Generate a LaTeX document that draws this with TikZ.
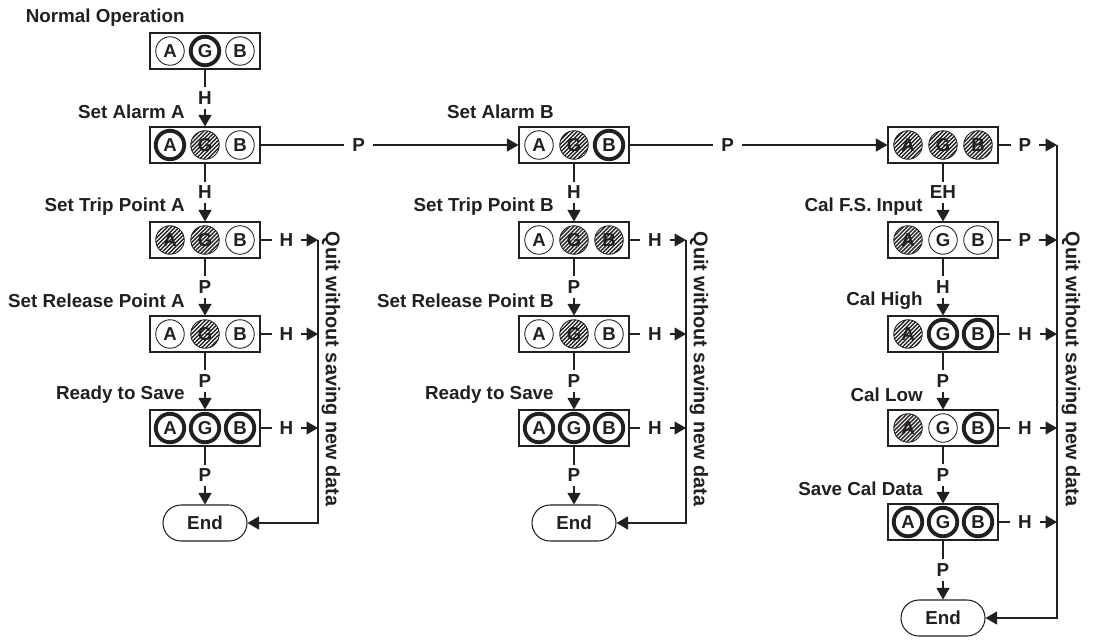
\documentclass[tikz,border=0pt]{standalone}
\usepackage{fontspec}
\setmainfont{Liberation Sans}
\usepackage{tikz}
\usetikzlibrary{arrows.meta,positioning,calc,patterns.meta}
\definecolor{ink}{HTML}{231F20}
\newcommand{\keyfont}{\fontsize{10.7}{12}\selectfont\bfseries}
\newcommand{\quitfont}{\fontsize{11.3}{13}\selectfont\bfseries}
\newcommand{\lampfont}{\fontsize{10.6}{12}\selectfont\bfseries}
\tikzset{
  panel/.style   ={draw=ink, line width=0.6pt, minimum width=22mm, minimum height=7.2mm, inner sep=0pt},
  lamp/.style    ={circle, draw=ink, line width=0.5pt, minimum size=5.7mm, inner sep=0pt,
                   font=\lampfont, text=ink},
  lampoff/.style ={lamp},
  lampon/.style  ={lamp, line width=2.2pt},
  lampfl/.style  ={lamp, pattern={Lines[angle=45,distance=1.6pt,line width=0.8pt]}, pattern color=ink},
  endbox/.style  ={draw=ink, line width=0.6pt, rounded corners=3.6mm, minimum width=16.8mm,
                   minimum height=7.2mm, font=\keyfont, text=ink},
  key/.style     ={fill=white, inner xsep=4.5pt, inner ysep=2.4pt, font=\keyfont, text=ink},
  lbl/.style     ={font=\keyfont, text=ink, inner sep=0pt},
  fl/.style      ={draw=ink, line width=0.6pt, -{Triangle[length=2.3mm,width=2.6mm]}},
  quit/.style    ={fl, line width=0.8pt},
}
% one display: box with the A, G and B lamps
\newcommand{\lamps}[5]{%
  \node[panel] (#1) at (#2) {};
  \node[#3] (#1-a) at ([xshift=-7mm]#1.center) {A};
  \node[#4] (#1-g) at (#1.center) {G};
  \node[#5] (#1-b) at ([xshift=7mm]#1.center) {B};
}
\newcommand{\steplabel}[2]{\node[lbl,anchor=east] at ($(#1.north)+(-4mm,3mm)$) {#2};}

\begin{document}
\begin{tikzpicture}[x=0.2mm,y=-0.2mm]
  \useasboundingbox (0,0) rectangle (1096,641);
  \def\ca{205} \def\cb{574} \def\cc{943}

  % ---------------- alarm A ----------------
  \lamps{nop}{\ca,51}{lampoff}{lampon}{lampoff}
  \lamps{saa}{\ca,145}{lampon}{lampfl}{lampoff}
  \lamps{stpa}{\ca,240}{lampfl}{lampfl}{lampoff}
  \lamps{srpa}{\ca,334}{lampoff}{lampfl}{lampoff}
  \lamps{rsa}{\ca,428}{lampon}{lampon}{lampon}
  \node[endbox] (enda) at (\ca,523) {End};
  \steplabel{nop}{Normal Operation}
  \steplabel{saa}{Set Alarm A}
  \steplabel{stpa}{Set Trip Point A}
  \steplabel{srpa}{Set Release Point A}
  \steplabel{rsa}{Ready to Save}
  \foreach \u/\v/\k in {nop/saa/H, saa/stpa/H, stpa/srpa/P, srpa/rsa/P, rsa/enda/P}
    \draw[fl] (\u.south) -- node[key] {\k} (\v.north);

  % ---------------- alarm B ----------------
  \lamps{sab}{\cb,145}{lampoff}{lampfl}{lampon}
  \lamps{stpb}{\cb,240}{lampoff}{lampfl}{lampfl}
  \lamps{srpb}{\cb,334}{lampoff}{lampfl}{lampoff}
  \lamps{rsb}{\cb,428}{lampon}{lampon}{lampon}
  \node[endbox] (endb) at (\cb,523) {End};
  \steplabel{sab}{Set Alarm B}
  \steplabel{stpb}{Set Trip Point B}
  \steplabel{srpb}{Set Release Point B}
  \steplabel{rsb}{Ready to Save}
  \foreach \u/\v/\k in {sab/stpb/H, stpb/srpb/P, srpb/rsb/P, rsb/endb/P}
    \draw[fl] (\u.south) -- node[key] {\k} (\v.north);

  % ---------------- calibration ----------------
  \lamps{cal}{\cc,145}{lampfl}{lampfl}{lampfl}
  \lamps{cfs}{\cc,240}{lampfl}{lampoff}{lampoff}
  \lamps{chi}{\cc,334}{lampfl}{lampon}{lampon}
  \lamps{clo}{\cc,428}{lampfl}{lampoff}{lampon}
  \lamps{scd}{\cc,522}{lampon}{lampon}{lampon}
  \node[endbox] (endc) at (\cc,618) {End};
  \steplabel{cfs}{Cal F.S. Input}
  \steplabel{chi}{Cal High}
  \steplabel{clo}{Cal Low}
  \steplabel{scd}{Save Cal Data}
  \foreach \u/\v/\k in {cal/cfs/EH, cfs/chi/H, chi/clo/P, clo/scd/P, scd/endc/P}
    \draw[fl] (\u.south) -- node[key] {\k} (\v.north);

  % P moves on to the next group
  \draw[fl] (saa.east) -- node[key,pos=0.38] {P} (sab.west);
  \draw[fl] (sab.east) -- node[key,pos=0.38] {P} (cal.west);

  % ---------------- quit without saving ----------------
  \coordinate (qa) at (318,240);
  \coordinate (qb) at (686,240);
  \coordinate (qc) at (1057,145);
  \draw[quit] (qa) -- (qa |- enda.east) -- (enda.east);
  \draw[quit] (qb) -- (qb |- endb.east) -- (endb.east);
  \draw[quit] (qc) -- (qc |- endc.east) -- (endc.east);
  \foreach \u/\q/\k in {stpa/qa/H, srpa/qa/H, rsa/qa/H, stpb/qb/H, srpb/qb/H, rsb/qb/H,
                        cal/qc/P, cfs/qc/P, chi/qc/H, clo/qc/H, scd/qc/H}
    \draw[fl] (\u.east) -- node[key,pos=0.45] {\k} (\u.east -| \q);
  \node[lbl,font=\quitfont,rotate=-90] (qta) at (331,369) {Quit without saving new data};
  \node[lbl,font=\quitfont,rotate=-90] (qtb) at (699,369) {Quit without saving new data};
  \node[lbl,font=\quitfont,rotate=-90] (qtc) at (1071,369) {Quit without saving new data};
\end{tikzpicture}
\end{document}
